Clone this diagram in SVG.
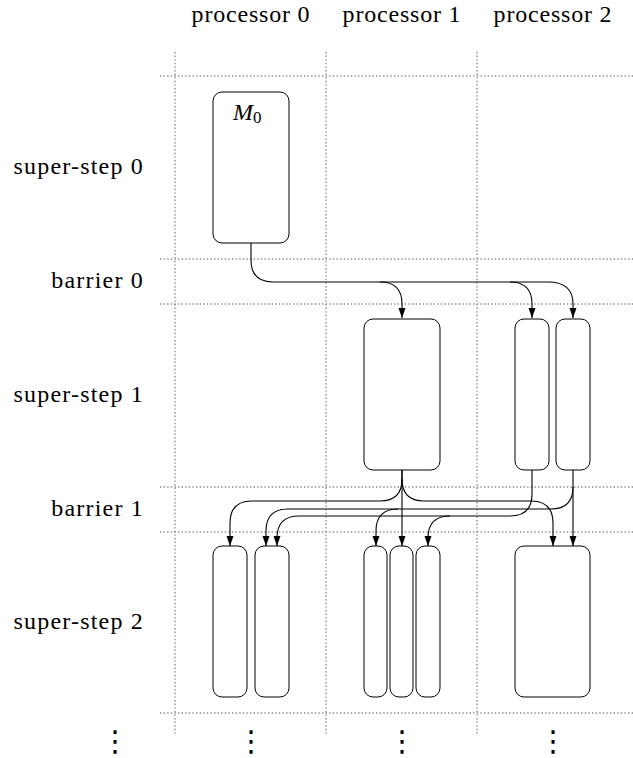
<svg xmlns="http://www.w3.org/2000/svg" width="633" height="758" viewBox="0 0 633 758">
<style>
.grid{stroke:#8c8c8c;stroke-width:1.4;stroke-dasharray:1.4 2.2;fill:none}
.box{fill:#fff;stroke:#000;stroke-width:1}
.lbl{font-family:"Liberation Serif",serif;font-size:24px;fill:#000;letter-spacing:0.8px}
.row{letter-spacing:1.2px}
.conn{fill:none;stroke:#000;stroke-width:1.1}
.arr{marker-end:url(#ah)}
.dots{font-family:"DejaVu Sans",sans-serif;font-size:29px;fill:#000;text-anchor:middle}
</style>
<defs>
<marker id="ah" markerUnits="userSpaceOnUse" markerWidth="10" markerHeight="8" refX="10" refY="3.5" orient="auto">
<path d="M0,0 L10,3.5 L0,7 z" fill="#000"/>
</marker>
</defs>
<rect width="633" height="758" fill="#fff"/>
<g id="grid">
<path class="grid" d="M175,52V735M326,52V735M477,52V735"/>
<path class="grid" d="M160,76H633M160,259H633M160,304H633M160,487H633M160,532H633M160,713H633"/>
</g>
<g id="headers" class="lbl" text-anchor="middle">
<text x="251" y="22">processor 0</text>
<text x="402" y="22">processor 1</text>
<text x="553" y="22">processor 2</text>
</g>
<g id="rowlabels" class="lbl row" text-anchor="end">
<text x="144" y="174">super-step 0</text>
<text x="144" y="288">barrier 0</text>
<text x="144" y="402">super-step 1</text>
<text x="144" y="516">barrier 1</text>
<text x="144" y="629">super-step 2</text>
</g>
<g id="M0">
<rect class="box" x="213" y="92" width="76" height="151" rx="9"/>
<text x="233" y="120" font-family="Liberation Serif,serif" font-size="24" font-style="italic">M<tspan font-style="normal" font-size="17" dy="3">0</tspan></text>
</g>
<g id="s1p1"><rect class="box" x="364" y="319" width="76" height="151" rx="9"/></g>
<g id="s1p2a"><rect class="box" x="515" y="319" width="34" height="151" rx="9"/></g>
<g id="s1p2b"><rect class="box" x="556" y="319" width="34" height="151" rx="9"/></g>
<g id="s2p0a"><rect class="box" x="213" y="546" width="34" height="151" rx="9"/></g>
<g id="s2p0b"><rect class="box" x="255" y="546" width="34" height="151" rx="9"/></g>
<g id="s2p1a"><rect class="box" x="364" y="546" width="23" height="151" rx="9"/></g>
<g id="s2p1b"><rect class="box" x="390" y="546" width="23" height="151" rx="9"/></g>
<g id="s2p1c"><rect class="box" x="416" y="546" width="24" height="151" rx="9"/></g>
<g id="s2p2"><rect class="box" x="515" y="546" width="75" height="151" rx="9"/></g>
<g id="connectors">
<path class="conn" d="M251,243V260Q251,282 273,282H548"/>
<path class="conn arr" d="M380,282Q402,282 402,304V318"/>
<path class="conn arr" d="M510,282Q532,282 532,304V318"/>
<path class="conn arr" d="M548,282Q573,282 573,304V318"/>
<path class="conn arr" d="M402,470V546"/>
<path class="conn arr" d="M402,470V479Q402,501 380,501H252Q230,501 230,523V546"/>
<path class="conn arr" d="M402,479Q402,501 424,501H531Q553,501 553,523V546"/>
<path class="conn arr" d="M532,470V494Q532,516 510,516H299Q277,516 277,538V546"/>
<path class="conn arr" d="M450,516Q428,516 428,538V546"/>
<path class="conn arr" d="M573,470V546"/>
<path class="conn arr" d="M573,487Q573,509 551,509H288Q266,509 266,531V546"/>
<path class="conn arr" d="M398,509Q376,509 376,531V546"/>
</g>
<g id="ellipses" class="dots">
<text x="115" y="751">⋮</text>
<text x="251" y="751">⋮</text>
<text x="402" y="751">⋮</text>
<text x="553" y="751">⋮</text>
</g>
</svg>
